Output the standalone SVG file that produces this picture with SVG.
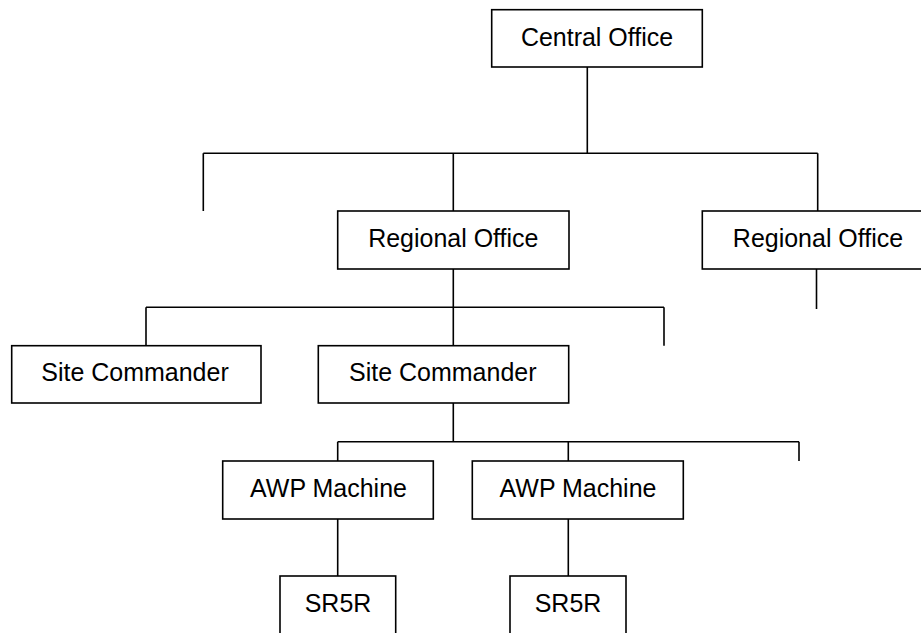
<svg xmlns="http://www.w3.org/2000/svg" width="921" height="633" viewBox="0 0 921 633">
<style>
.box{fill:#fff;stroke:#000;stroke-width:1.6}
.lbl{font-family:"Liberation Sans",Arial,sans-serif;font-size:26.3px;fill:#000;text-anchor:middle}
.con{fill:none;stroke:#000;stroke-width:1.6}
</style>
<rect width="921" height="633" fill="#fff"/>
<g id="connectors" class="con">
<path d="M587.3 67V153.3M203.3 153.3H817.7M203.3 153.3V211M453.3 153.3V211M817.7 153.3V211"/>
<path d="M453.3 269V307.3M146 307.3H664M146 307.3V345.7M453.3 307.3V345.7M664 307.3V345.7"/>
<path d="M816.5 269V309"/>
<path d="M453.3 403V441.7M337.7 441.7H799M337.7 441.7V461M568.3 441.7V461M799 441.7V461"/>
<path d="M337.7 519V576M568.3 519V576"/>
</g>
<g id="central-office"><rect class="box" x="491.7" y="9.7" width="210.6" height="57.3"/><text class="lbl" transform="translate(597 46) scale(0.95 1)">Central Office</text></g>
<g id="regional-office-1"><rect class="box" x="337.7" y="211" width="231.3" height="58"/><text class="lbl" transform="translate(453.3 247.4) scale(0.95 1)">Regional Office</text></g>
<g id="regional-office-2"><rect class="box" x="702.3" y="211" width="231" height="58"/><text class="lbl" transform="translate(818 247.4) scale(0.95 1)">Regional Office</text></g>
<g id="site-commander-1"><rect class="box" x="11.7" y="345.7" width="249.3" height="57.3"/><text class="lbl" transform="translate(135 380.8) scale(0.95 1)">Site Commander</text></g>
<g id="site-commander-2"><rect class="box" x="318.3" y="345.7" width="250.4" height="57.3"/><text class="lbl" transform="translate(442.8 380.8) scale(0.95 1)">Site Commander</text></g>
<g id="awp-machine-1"><rect class="box" x="222.7" y="461" width="210.6" height="58"/><text class="lbl" transform="translate(328.5 496.8) scale(0.95 1)">AWP Machine</text></g>
<g id="awp-machine-2"><rect class="box" x="472.3" y="461" width="211" height="58"/><text class="lbl" transform="translate(578 496.8) scale(0.95 1)">AWP Machine</text></g>
<g id="sr5r-1"><rect class="box" x="280" y="576" width="115.7" height="60"/><text class="lbl" transform="translate(338 611.7) scale(0.95 1)">SR5R</text></g>
<g id="sr5r-2"><rect class="box" x="510" y="576" width="116" height="60"/><text class="lbl" transform="translate(568 611.7) scale(0.95 1)">SR5R</text></g>
</svg>
